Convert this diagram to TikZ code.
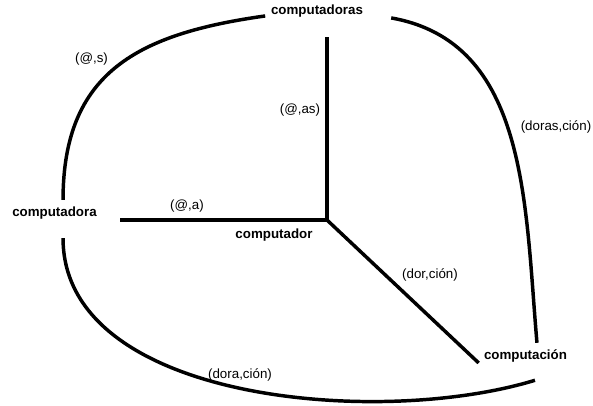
\documentclass[tikz,border=0pt]{standalone}
\usepackage{fontspec}
\setmainfont{Liberation Sans}

\begin{document}
\begin{tikzpicture}[x=0.75pt,y=-0.75pt,
  word/.style={font=\bfseries,inner sep=2pt},
  lbl/.style={inner sep=1pt},
  edge/.style={line width=2.6pt}]
\useasboundingbox (0,0) rectangle (593,405);

\coordinate (hub) at (327,220);
\node[word](cdoras) at (317,11) {computadoras};
\node[word](cdora) at (54.5,213) {computadora};
\node[word](cdor) at (274,235) {computador};
\node[word](cion) at (525.5,356) {computación};

\node[lbl](ls) at (91.5,59) {(@,s)};
\node[lbl](las) at (300,110) {(@,as)};
\node[lbl](la) at (187,206) {(@,a)};
\node[lbl](ldorascion) at (556,127) {(doras,ción)};
\node[lbl](ldorcion) at (430,275) {(dor,ción)};
\node[lbl](ldoracion) at (240,375) {(dora,ción)};

% spokes out of the hub
\draw[edge,shorten >=12.5pt] (hub) -- (hub |- cdoras.south);
\draw[edge,shorten >=15pt] (hub) -- (hub -| cdora.east);
\draw[edge,shorten >=2.5pt] (hub) -- (cion.south west);

% outer arcs
\draw[edge] ([shift={(-2.2pt,-3.7pt)}]cdoras.west) to[out=188,in=90,looseness=1.2] ([shift={(6.4pt,3pt)}]cdora.north);
\draw[edge] ([shift={(19pt,-5.2pt)}]cdoras.east) to[out=-10,in=95] ([shift={(8.6pt,3pt)}]cion.north);
\draw[edge] ([shift={(6.4pt,-12pt)}]cdora.south) to[out=-90,in=197,looseness=0.85] ([shift={(7.1pt,-11.3pt)}]cion.south);

\end{tikzpicture}
\end{document}
